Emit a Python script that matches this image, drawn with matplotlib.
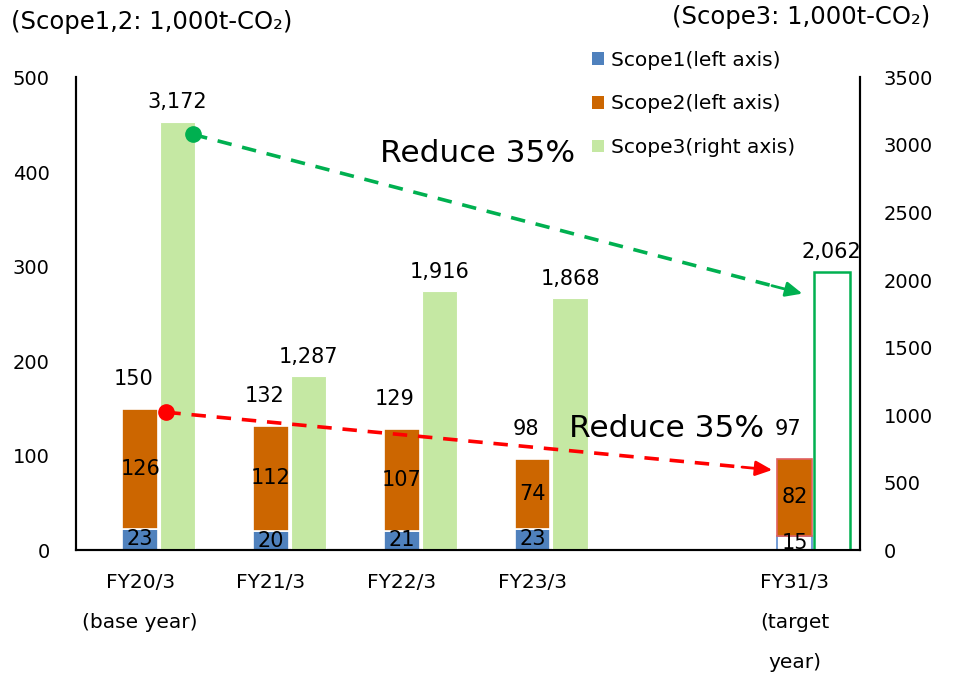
import matplotlib
matplotlib.use("Agg")
from matplotlib import pyplot as plt

# data
positions = [0, 1, 2, 3, 5]
tick_labels = ["FY20/3\n(base year)", "FY21/3", "FY22/3", "FY23/3", "FY31/3\n(target\nyear)"]
scope1 = [23, 20, 21, 23, 15]
scope2 = [126, 112, 107, 74, 82]
totals_12 = [150, 132, 129, 98, 97]
scope3 = [3172, 1287, 1916, 1868, 2062]

# reduction arrows: (x, y) start and end
red_arrow = [(0.2, 146), (4.83, 85)]
green_arrow = [(0.405, 3078), (5.06, 1900)]

C_S1 = "#4F81BD"
C_S2 = "#CC6600"
C_S3 = "#C5E8A3"
C_GREEN = "#00B050"
C_RED = "#FF0000"
FS = 14
FS_LBL = 15

plt.rcParams["font.family"] = ["DejaVu Sans"]

fig = plt.figure(figsize=(9.55, 6.82), dpi=100)
ax = fig.add_axes([0.0796, 0.193, 0.8209, 0.6935])
ax2 = ax.twinx()

w = 0.27
off = 0.285
n = len(positions)
for i in range(n):
    x = positions[i]
    target = i == n - 1
    if target:
        ax.bar(x, scope1[i], w, color="white", edgecolor="#5B8BD0", linewidth=1.2)
        ax.bar(x, scope2[i], w, bottom=scope1[i], color=C_S2, edgecolor="#E06060", linewidth=1.2)
        ax2.bar(x + off, scope3[i], w, color="white", edgecolor=C_GREEN, linewidth=1.8)
    else:
        ax.bar(x, scope1[i], w, color=C_S1, edgecolor="white", linewidth=1.2)
        ax.bar(x, scope2[i], w, bottom=scope1[i], color=C_S2, edgecolor="white", linewidth=1.2)
        ax2.bar(x + off, scope3[i], w, color=C_S3, edgecolor="white", linewidth=0.8)
    ax.text(x, scope1[i] / 2, str(scope1[i]), ha="center", va="center", fontsize=FS_LBL)
    ax.text(x, scope1[i] + scope2[i] / 2, str(scope2[i]), ha="center", va="center", fontsize=FS_LBL)
    ax.annotate(str(totals_12[i]), (x, totals_12[i]), xytext=(-5, 21), textcoords="offset points",
                ha="center", va="center", fontsize=FS_LBL)
    ax2.annotate(f"{scope3[i]:,}", (x + off, scope3[i]), xytext=(0, 14), textcoords="offset points",
                 ha="center", va="center", fontsize=FS_LBL)

# legend handles
ax.bar([0], [0], color=C_S1, label="Scope1(left axis)")
ax.bar([0], [0], color=C_S2, label="Scope2(left axis)")
ax2.bar([0], [0], color=C_S3, label="Scope3(right axis)")
h1, l1 = ax.get_legend_handles_labels()
h2, l2 = ax2.get_legend_handles_labels()
ax2.legend(h1 + h2, l1 + l2, loc="upper left", bbox_to_anchor=(0.601, 0.952),
           bbox_transform=fig.transFigure, frameon=False, fontsize=14.5,
           handlelength=0.6, handleheight=0.6, handletextpad=0.35, labelspacing=1.22)

# dashed reduction arrows
for (p0, p1), col, tr in [(red_arrow, C_RED, ax.transData), (green_arrow, C_GREEN, ax2.transData)]:
    fx = p0[0] + (p1[0] - p0[0]) * 0.95
    fy = p0[1] + (p1[1] - p0[1]) * 0.95
    ax2.plot([p0[0], fx], [p0[1], fy], color=col, lw=2.6, dashes=(4, 3), transform=tr, zorder=5)
    ax2.plot([p0[0]], [p0[1]], "o", color=col, ms=11, transform=tr, zorder=6)
    ax2.annotate("", xy=p1, xycoords=tr, xytext=(fx, fy), textcoords=tr,
                 arrowprops=dict(arrowstyle="-|>,head_length=1.0,head_width=0.45", color=col,
                                 lw=2, shrinkA=0, shrinkB=0), zorder=6)

fig.text(0.398, 0.775, "Reduce 35%", fontsize=22.5, ha="left", va="center")
fig.text(0.596, 0.372, "Reduce 35%", fontsize=22.5, ha="left", va="center")

ax.set_xlim(-0.49, 5.5)
ax.set_ylim(0, 500)
ax2.set_ylim(0, 3500)
ax.set_yticks(range(0, 501, 100))
ax2.set_yticks(range(0, 3501, 500))
ax.set_xticks(positions)
ax.set_xticklabels(tick_labels, fontsize=14.5, linespacing=2.42, va="top")
ax.tick_params(axis="x", length=0, pad=16)
ax.tick_params(axis="y", length=0, pad=19, labelsize=FS)
ax2.tick_params(axis="y", length=0, pad=17, labelsize=FS)

for a in (ax, ax2):
    a.spines["top"].set_visible(False)
    for s in ("left", "right", "bottom"):
        a.spines[s].set_linewidth(1.5)
        a.spines[s].set_color("black")

fig.text(0.012, 0.968, "(Scope1,2: 1,000t-CO₂)", fontsize=17.5, ha="left", va="center")
fig.text(0.974, 0.975, "(Scope3: 1,000t-CO₂)", fontsize=17.5, ha="right", va="center")

fig.savefig("out.png", dpi=100)
